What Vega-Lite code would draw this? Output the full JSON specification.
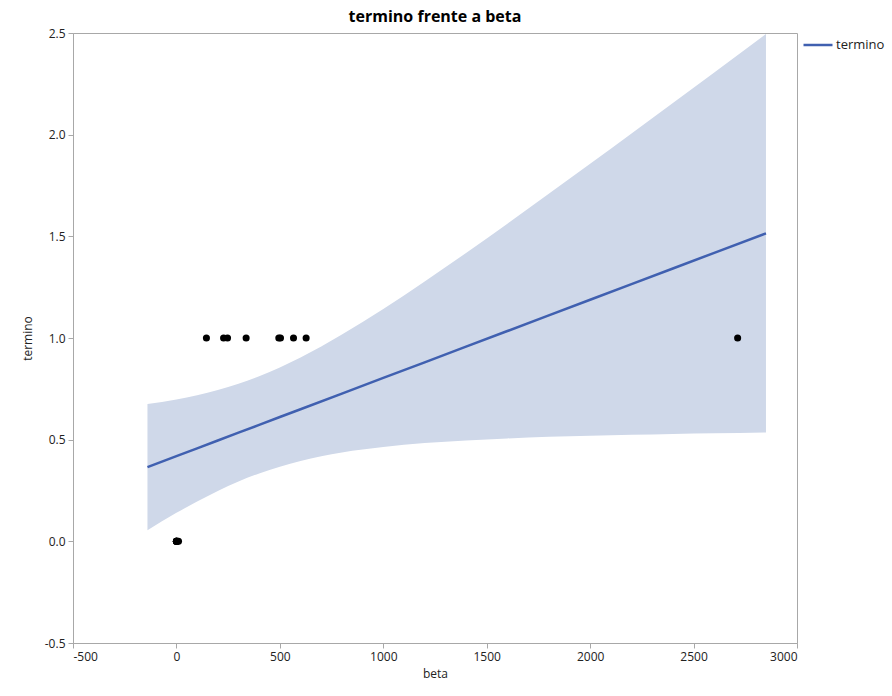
{
  "$schema": "https://vega.github.io/schema/vega-lite/v6.json",
  "autosize": "none",
  "width": 724,
  "height": 610,
  "padding": {"left": 73, "top": 33, "right": 95, "bottom": 53},
  "background": "white",
  "config": {
    "font": "Open Sans",
    "view": {"stroke": "#A8A8A8", "strokeWidth": 1},
    "axis": {
      "grid": false,
      "domainColor": "#A8A8A8",
      "tickColor": "#A8A8A8",
      "tickSize": 5,
      "labelFont": "Open Sans",
      "labelFontSize": 12,
      "labelColor": "#222222",
      "titleFont": "Open Sans",
      "titleFontSize": 12,
      "titleFontWeight": "normal",
      "titleColor": "#222222"
    }
  },
  "title": {
    "text": "termino frente a beta",
    "font": "Open Sans",
    "fontSize": 16,
    "fontWeight": "bold",
    "color": "#000000",
    "anchor": "middle",
    "offset": 2
  },
  "datasets": {
    "points": [
      {"beta": 0, "termino": 0},
      {"beta": 0, "termino": 0},
      {"beta": 0, "termino": 0},
      {"beta": 0, "termino": 0},
      {"beta": 0, "termino": 0},
      {"beta": 5, "termino": 0},
      {"beta": 10, "termino": 0},
      {"beta": 145, "termino": 1},
      {"beta": 228, "termino": 1},
      {"beta": 247, "termino": 1},
      {"beta": 337, "termino": 1},
      {"beta": 495, "termino": 1},
      {"beta": 503, "termino": 1},
      {"beta": 566, "termino": 1},
      {"beta": 627, "termino": 1},
      {"beta": 2713, "termino": 1}
    ],
    "fit": [
      {"beta": -140, "fit": 0.3652, "lo": 0.055, "hi": 0.675},
      {"beta": 0, "fit": 0.4191, "lo": 0.140, "hi": 0.698},
      {"beta": 100, "fit": 0.4575, "lo": 0.196, "hi": 0.719},
      {"beta": 200, "fit": 0.4960, "lo": 0.248, "hi": 0.744},
      {"beta": 300, "fit": 0.5344, "lo": 0.294, "hi": 0.775},
      {"beta": 400, "fit": 0.5729, "lo": 0.334, "hi": 0.812},
      {"beta": 500, "fit": 0.6113, "lo": 0.367, "hi": 0.855},
      {"beta": 600, "fit": 0.6498, "lo": 0.395, "hi": 0.904},
      {"beta": 800, "fit": 0.7267, "lo": 0.437, "hi": 1.017},
      {"beta": 1000, "fit": 0.8036, "lo": 0.464, "hi": 1.143},
      {"beta": 1200, "fit": 0.8805, "lo": 0.483, "hi": 1.278},
      {"beta": 1400, "fit": 0.9574, "lo": 0.496, "hi": 1.418},
      {"beta": 1600, "fit": 1.0343, "lo": 0.506, "hi": 1.562},
      {"beta": 1800, "fit": 1.1112, "lo": 0.514, "hi": 1.709},
      {"beta": 2000, "fit": 1.1881, "lo": 0.519, "hi": 1.857},
      {"beta": 2200, "fit": 1.2650, "lo": 0.524, "hi": 2.006},
      {"beta": 2400, "fit": 1.3419, "lo": 0.528, "hi": 2.156},
      {"beta": 2600, "fit": 1.4188, "lo": 0.531, "hi": 2.306},
      {"beta": 2850, "fit": 1.5149, "lo": 0.535, "hi": 2.495}
    ]
  },
  "layer": [
    {
      "data": {"name": "fit"},
      "mark": {"type": "area", "color": "#CFD8E9", "opacity": 1, "interpolate": "monotone"},
      "encoding": {
        "x": {"field": "beta", "type": "quantitative", "scale": {"domain": [-500, 3000], "nice": false}, "axis": {"values": [-500, 0, 500, 1000, 1500, 2000, 2500, 3000], "labelExpr": "'' + datum.value", "title": "beta", "titlePadding": 6, "labelPadding": 3}},
        "y": {"field": "lo", "type": "quantitative", "scale": {"domain": [-0.5, 2.5], "nice": false}, "axis": {"values": [-0.5, 0, 0.5, 1, 1.5, 2, 2.5], "labelExpr": "replace(format(datum.value, '.1f'), '\u2212', '-')", "title": "termino", "titlePadding": 10, "labelPadding": 3}},
        "y2": {"field": "hi"}
      }
    },
    {
      "data": {"name": "fit"},
      "mark": {"type": "line", "strokeWidth": 2.5},
      "encoding": {
        "x": {"field": "beta", "type": "quantitative"},
        "y": {"field": "fit", "type": "quantitative"},
        "color": {
          "datum": "termino",
          "type": "nominal",
          "scale": {"domain": ["termino"], "range": ["#4060B0"]},
          "legend": {
            "title": null,
            "orient": "none",
            "legendX": 729,
            "legendY": -4,
            "symbolType": "stroke",
            "symbolSize": 841,
            "symbolStrokeWidth": 2.5,
            "labelFont": "Open Sans",
            "labelFontSize": 13,
            "labelColor": "#222222",
            "labelOffset": 2
          }
        }
      }
    },
    {
      "data": {"name": "points"},
      "mark": {"type": "circle", "size": 50, "color": "#000000", "opacity": 1},
      "encoding": {
        "x": {"field": "beta", "type": "quantitative"},
        "y": {"field": "termino", "type": "quantitative"}
      }
    }
  ]
}
